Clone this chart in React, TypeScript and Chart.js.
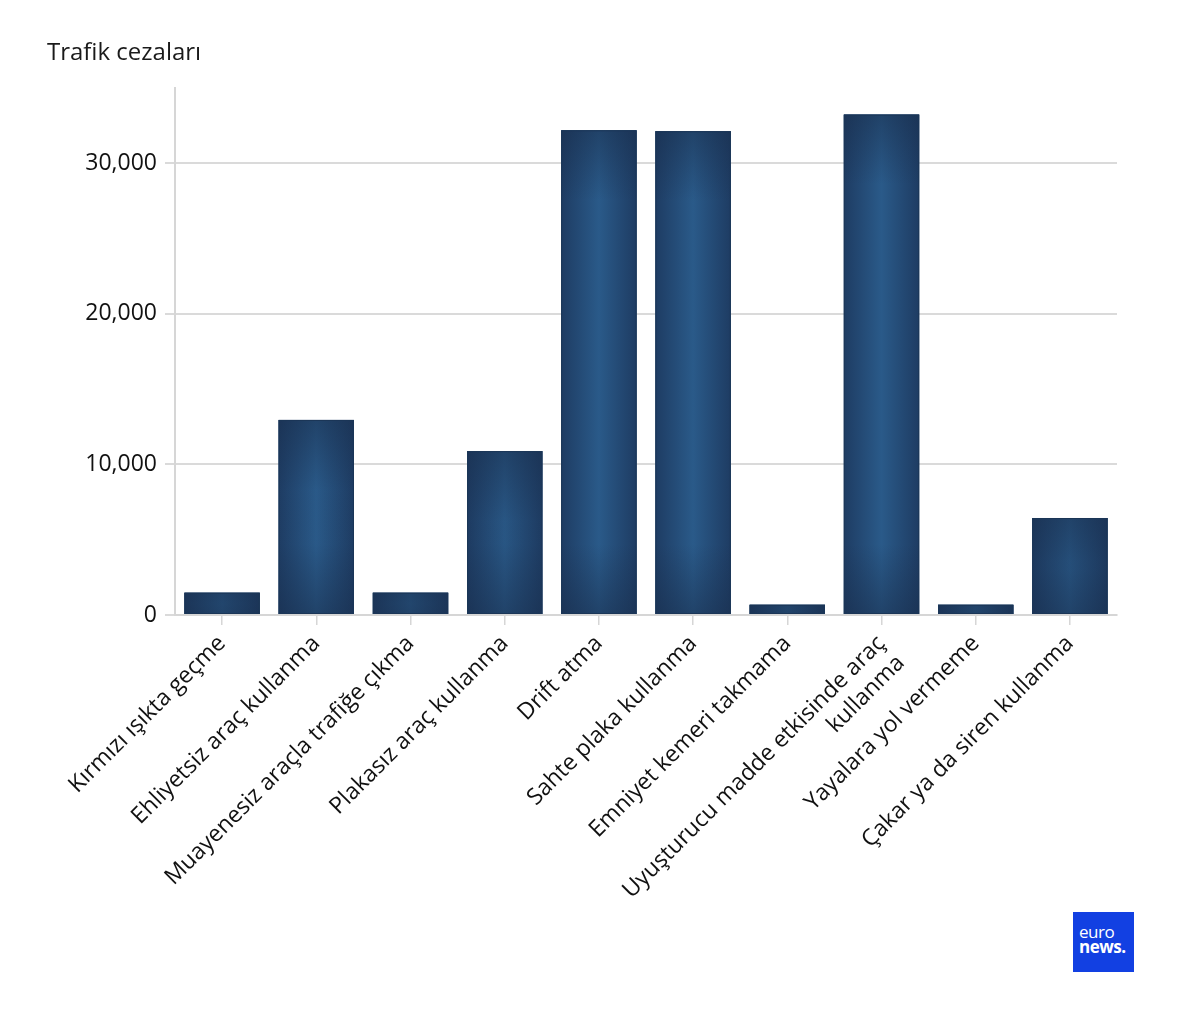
import React, { useEffect, useRef } from "react";
import { Chart, registerables } from "chart.js";

Chart.register(...registerables);

const TITLE = "Trafik cezaları";
const categories: (string | string[])[] = [
  "Kırmızı ışıkta geçme",
  "Ehliyetsiz araç kullanma",
  "Muayenesiz araçla trafiğe çıkma",
  "Plakasız araç kullanma",
  "Drift atma",
  "Sahte plaka kullanma",
  "Emniyet kemeri takmama",
  ["Uyuşturucu madde etkisinde araç", "kullanma"],
  "Yayalara yol vermeme",
  "Çakar ya da siren kullanma",
];
const fines = [1480, 12950, 1480, 10880, 32180, 32120, 680, 33220, 680, 6440];
const yTicks = [0, 10000, 20000, 30000];
const yMax = 35000;

const FONT = "'Open Sans', 'Noto Sans', sans-serif";

const barShading = {
  id: "barShading",
  afterDatasetsDraw(chart: any) {
    const ctx = chart.ctx;
    const meta = chart.getDatasetMeta(0);
    meta.data.forEach((bar: any) => {
      const left = bar.x - bar.width / 2;
      const right = bar.x + bar.width / 2;
      const top = Math.min(bar.y, bar.base);
      const bottom = Math.max(bar.y, bar.base);
      const h = bottom - top;
      ctx.save();
      const hg = ctx.createLinearGradient(left, 0, right, 0);
      hg.addColorStop(0, "#1e3c63");
      hg.addColorStop(0.5, "#2a5a89");
      hg.addColorStop(1, "#1e3c63");
      ctx.fillStyle = hg;
      ctx.fillRect(left, top, bar.width, h);
      const centerA = 0.5 * (1 - Math.min(1, h / 200));
      const vg = ctx.createLinearGradient(0, top, 0, bottom);
      const edge = Math.min(0.45, 70 / Math.max(h, 1));
      vg.addColorStop(0, "rgba(24,44,74,0.5)");
      vg.addColorStop(edge, `rgba(24,44,74,${centerA})`);
      vg.addColorStop(1 - edge, `rgba(24,44,74,${centerA})`);
      vg.addColorStop(1, "rgba(24,44,74,0.5)");
      ctx.fillStyle = vg;
      ctx.fillRect(left, top, bar.width, h);
      ctx.strokeStyle = "#1b3657";
      ctx.lineWidth = 1;
      ctx.strokeRect(left + 0.5, top + 0.5, bar.width - 1, h - 1);
      ctx.restore();
    });
  },
};

export default function App() {
  const ref = useRef<HTMLCanvasElement | null>(null);

  useEffect(() => {
    document.body.style.margin = "0";
    document.body.style.background = "#ffffff";
    if (!ref.current) return;
    const chart = new Chart(ref.current, {
      type: "bar",
      data: {
        labels: categories,
        datasets: [
          {
            data: fines,
            backgroundColor: "#244b78",
            barPercentage: 0.8,
            categoryPercentage: 1,
          },
        ],
      },
      plugins: [barShading],
      options: {
        responsive: false,
        animation: false,
        layout: { padding: { left: 47, right: 83, top: 39, bottom: 0 } },
        plugins: {
          legend: { display: false },
          tooltip: { enabled: false },
          title: {
            display: true,
            text: TITLE,
            align: "start",
            color: "#1a1a1a",
            font: { family: FONT, size: 24, weight: "normal", lineHeight: 1.2 },
            padding: { top: 0, bottom: 20 },
          },
        },
        scales: {
          x: {
            grid: {
              display: true,
              drawOnChartArea: false,
              drawTicks: true,
              tickLength: 10,
              offset: false,
              color: "#d6d6d6",
              lineWidth: 1.5,
            },
            border: { display: true, color: "#d6d6d6", width: 2 },
            ticks: {
              autoSkip: false,
              minRotation: 45,
              maxRotation: 45,
              color: "#111",
              padding: 5,
              font: { family: FONT, size: 23 },
            },
            afterFit: (scale: any) => {
              scale.height = 285;
            },
          },
          y: {
            min: 0,
            max: yMax,
            ticks: {
              autoSkip: false,
              color: "#111",
              padding: 8,
              font: { family: FONT, size: 23 },
              callback: (v: any) => Number(v).toLocaleString("en-US"),
            },
            afterBuildTicks: (axis: any) => {
              axis.ticks = yTicks.map((v) => ({ value: v }));
            },
            grid: {
              color: "#dadada",
              lineWidth: 2,
              tickLength: 10,
            },
            border: { display: true, color: "#d6d6d6", width: 2 },
            afterFit: (scale: any) => {
              scale.width = 128;
            },
          },
        },
      },
    });
    return () => chart.destroy();
  }, []);

  return (
    <div style={{ position: "relative", width: 1200, height: 1019, background: "#fff" }}>
      <canvas ref={ref} width={1200} height={900} style={{ display: "block", width: 1200, height: 900 }} />
      <div
        style={{
          position: "absolute",
          left: 1073,
          top: 912,
          width: 61,
          height: 60,
          background: "#1240e2",
          color: "#fff",
          fontFamily: "'Open Sans', 'Noto Sans', sans-serif",
          boxSizing: "border-box",
          paddingLeft: 6,
          paddingTop: 12,
          lineHeight: "15px",
        }}
      >
        <div style={{ fontSize: 17, fontWeight: 400, letterSpacing: -0.5 }}>euro</div>
        <div style={{ fontSize: 17, fontWeight: 700, letterSpacing: -0.5 }}>news.</div>
      </div>
    </div>
  );
}
